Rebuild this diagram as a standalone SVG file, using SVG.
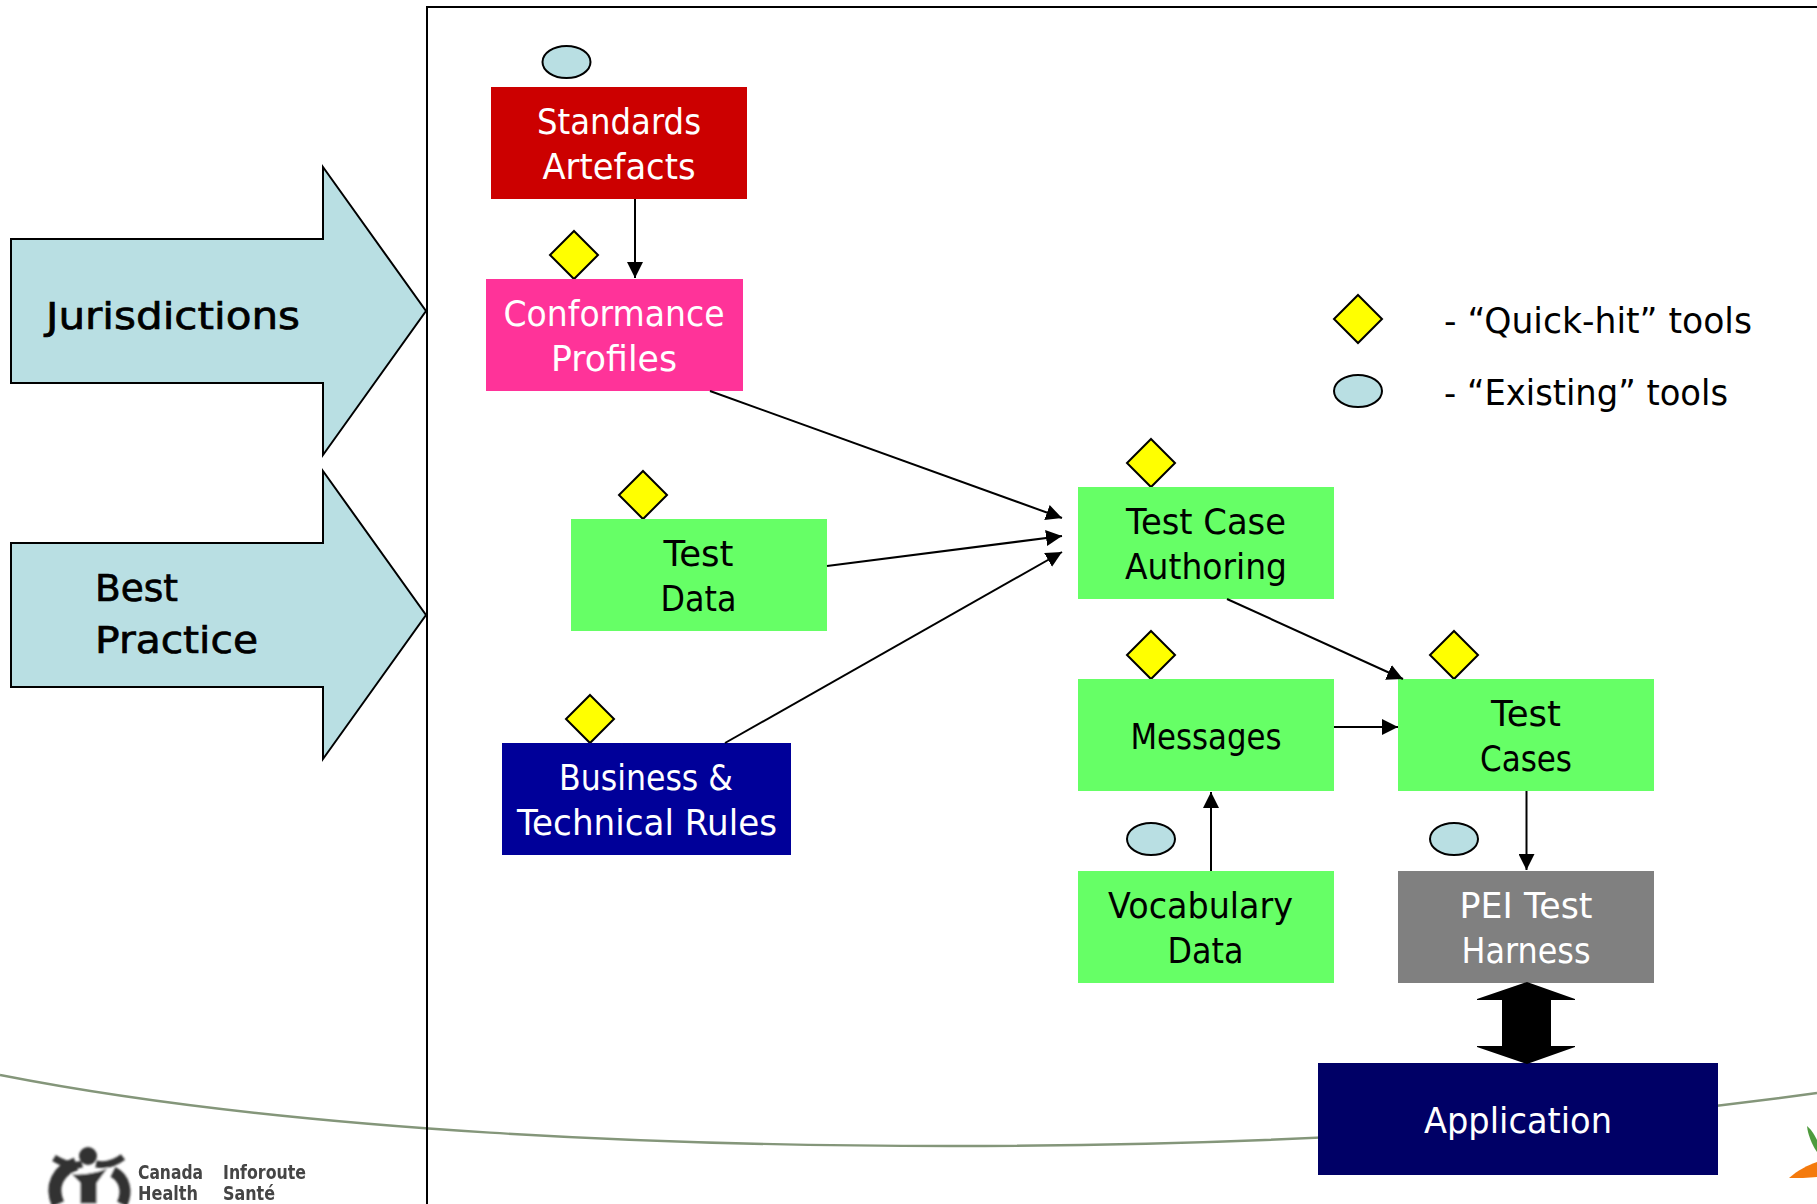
<svg xmlns="http://www.w3.org/2000/svg" width="1817" height="1204" viewBox="0 0 1817 1204">
<defs>
<marker id="ah" markerUnits="userSpaceOnUse" markerWidth="17" markerHeight="16" refX="16" refY="8" orient="auto"><path d="M0,0 L16,8 L0,16 Z" fill="#000"/></marker>
<filter id="soft" x="-10%" y="-10%" width="120%" height="120%"><feGaussianBlur stdDeviation="0.9"/></filter>
<filter id="softer" x="-10%" y="-10%" width="120%" height="120%"><feGaussianBlur stdDeviation="0.6"/></filter>
</defs>
<style>
text{font-family:"DejaVu Sans","Liberation Sans",sans-serif;font-size:36px;text-anchor:middle}
.w{fill:#fff}.k{fill:#000}
.l{text-anchor:start}
.b{stroke:#000;stroke-width:.7;text-anchor:start;font-size:38px}
.logo{font-size:20px;font-weight:bold;fill:#444;text-anchor:start}
.d{fill:#ffff00;stroke:#000;stroke-width:2;stroke-linejoin:miter}
.e{fill:#b9dfe3;stroke:#000;stroke-width:2}
.ba{fill:#b9dfe3;stroke:#000;stroke-width:2}
.c{fill:none;stroke:#000;stroke-width:2;marker-end:url(#ah)}
</style>
<rect width="1817" height="1204" fill="#fff"/>
<path id="swoosh" d="M0,1075 C300,1134 690,1146 950,1146 C1250,1146 1550,1130 1817,1093" fill="none" stroke="#84967a" stroke-width="2.4"/>
<g id="logo-left"><g filter="url(#soft)" fill="none" stroke="#333"><path d="M58,1204 C50,1186 58,1170 76,1164" stroke-width="13"/><path d="M113,1172 C125,1178 128,1192 122,1204" stroke-width="11"/><path d="M54,1158 Q70,1168 82,1164 M96,1164 Q110,1167 123,1157" stroke-width="7"/><circle cx="88" cy="1156" r="9" fill="#333" stroke="none"/><path d="M71,1174 Q90,1175 108,1168 L97,1183 L97,1204 L80,1204 L80,1183 Z" fill="#333" stroke="#fff" stroke-width="1"/></g>
<g filter="url(#softer)"><text class="logo" x="138" y="1179" textLength="65" lengthAdjust="spacingAndGlyphs">Canada</text><text class="logo" x="138" y="1200" textLength="60" lengthAdjust="spacingAndGlyphs">Health</text><text class="logo" x="223" y="1179" textLength="83" lengthAdjust="spacingAndGlyphs">Inforoute</text><text class="logo" x="223" y="1200" textLength="52" lengthAdjust="spacingAndGlyphs">Santé</text></g></g>
<g id="logo-right" filter="url(#softer)"><path d="M1807,1126 C1812,1130 1815,1136 1817,1140 L1817,1152 C1812,1145 1808,1135 1807,1126 Z" fill="#4e9a3c"/><path d="M1789,1178 C1798,1170 1808,1165 1817,1162 L1817,1177 C1808,1178 1798,1178 1789,1178 Z" fill="#f47a10"/></g>
<path id="frame" d="M1817,7 H427 V1204" fill="none" stroke="#000" stroke-width="2"/>
<g id="jurisdictions"><path class="ba" d="M11,239 H323 V167 L426,311 L323,455 V383 H11 Z"/><text class="b" x="46" y="329" textLength="254" lengthAdjust="spacingAndGlyphs">Jurisdictions</text></g>
<g id="best-practice"><path class="ba" d="M11,543 H323 V471 L426,615 L323,759 V687 H11 Z"/><text class="b" x="95" y="601" textLength="83" lengthAdjust="spacingAndGlyphs">Best</text><text class="b" x="95" y="653" textLength="163" lengthAdjust="spacingAndGlyphs">Practice</text></g>
<g id="standards-artefacts"><ellipse class="e" cx="566.500" cy="62" rx="24" ry="16"/><rect x="491" y="87" width="256" height="112" fill="#cc0000"/><text class="w" x="619" y="134" textLength="164" lengthAdjust="spacingAndGlyphs">Standards</text><text class="w" x="619" y="179" textLength="153" lengthAdjust="spacingAndGlyphs">Artefacts</text></g>
<g id="conformance-profiles"><path class="d" d="M574,231 L598,255 L574,279 L550,255 Z"/><rect x="486" y="279" width="257" height="112" fill="#ff3399"/><text class="w" x="614" y="326" textLength="221" lengthAdjust="spacingAndGlyphs">Conformance</text><text class="w" x="614" y="371" textLength="126" lengthAdjust="spacingAndGlyphs">Profiles</text></g>
<g id="test-data"><path class="d" d="M643,471 L667,495 L643,519 L619,495 Z"/><rect x="571" y="519" width="256" height="112" fill="#66ff66"/><text class="k" x="698.500" y="566" textLength="70" lengthAdjust="spacingAndGlyphs">Test</text><text class="k" x="698.500" y="611" textLength="76" lengthAdjust="spacingAndGlyphs">Data</text></g>
<g id="business-rules"><path class="d" d="M590,695 L614,719 L590,743 L566,719 Z"/><rect x="502" y="743" width="289" height="112" fill="#000099"/><text class="w" x="646" y="790" textLength="174" lengthAdjust="spacingAndGlyphs">Business &amp;</text><text class="w" x="647" y="835" textLength="260" lengthAdjust="spacingAndGlyphs">Technical Rules</text></g>
<g id="test-case-authoring"><path class="d" d="M1151,439 L1175,463 L1151,487 L1127,463 Z"/><rect x="1078" y="487" width="256" height="112" fill="#66ff66"/><text class="k" x="1206" y="534" textLength="160" lengthAdjust="spacingAndGlyphs">Test Case</text><text class="k" x="1206" y="579" textLength="162" lengthAdjust="spacingAndGlyphs">Authoring</text></g>
<g id="messages"><path class="d" d="M1151,631 L1175,655 L1151,679 L1127,655 Z"/><rect x="1078" y="679" width="256" height="112" fill="#66ff66"/><text class="k" x="1206" y="749" textLength="151" lengthAdjust="spacingAndGlyphs">Messages</text></g>
<g id="test-cases"><path class="d" d="M1454,631 L1478,655 L1454,679 L1430,655 Z"/><rect x="1398" y="679" width="256" height="112" fill="#66ff66"/><text class="k" x="1526" y="726" textLength="70" lengthAdjust="spacingAndGlyphs">Test</text><text class="k" x="1526" y="771" textLength="92" lengthAdjust="spacingAndGlyphs">Cases</text></g>
<g id="vocabulary-data"><ellipse class="e" cx="1151" cy="839" rx="24" ry="16"/><rect x="1078" y="871" width="256" height="112" fill="#66ff66"/><text class="k" x="1200.500" y="918" textLength="185" lengthAdjust="spacingAndGlyphs">Vocabulary</text><text class="k" x="1205.500" y="963" textLength="76" lengthAdjust="spacingAndGlyphs">Data</text></g>
<g id="pei-harness"><ellipse class="e" cx="1454" cy="839" rx="24" ry="16"/><rect x="1398" y="871" width="256" height="112" fill="#808080"/><text class="w" x="1526" y="918" textLength="133" lengthAdjust="spacingAndGlyphs">PEI Test</text><text class="w" x="1526" y="963" textLength="129" lengthAdjust="spacingAndGlyphs">Harness</text></g>
<g id="application"><rect x="1318" y="1063" width="400" height="112" fill="#000066"/><text class="w" x="1518" y="1133" textLength="188" lengthAdjust="spacingAndGlyphs">Application</text></g>
<g id="legend"><path class="d" d="M1358,295 L1382,319 L1358,343 L1334,319 Z"/><ellipse class="e" cx="1358" cy="391" rx="24" ry="16"/><text class="k l" x="1444" y="333" textLength="308" lengthAdjust="spacingAndGlyphs">- “Quick-hit” tools</text><text class="k l" x="1444" y="405" textLength="284" lengthAdjust="spacingAndGlyphs">- “Existing” tools</text></g>
<g id="connectors">
<path class="c" d="M635,199 V278"/>
<path class="c" d="M710,391 L1062,518"/>
<path class="c" d="M827,566 L1062,536"/>
<path class="c" d="M725,743 L1062,552"/>
<path class="c" d="M1227,599 L1403,679"/>
<path class="c" d="M1334,727 H1398"/>
<path class="c" d="M1211,871 V792"/>
<path class="c" d="M1526.500,791 V870"/>
<path d="M1527,982 L1575,999 V1000 H1551 V1046 H1575 V1047 L1527,1064 L1477,1047 V1046 H1502 V1000 H1477 V999 Z" fill="#000"/>
</g>
</svg>
